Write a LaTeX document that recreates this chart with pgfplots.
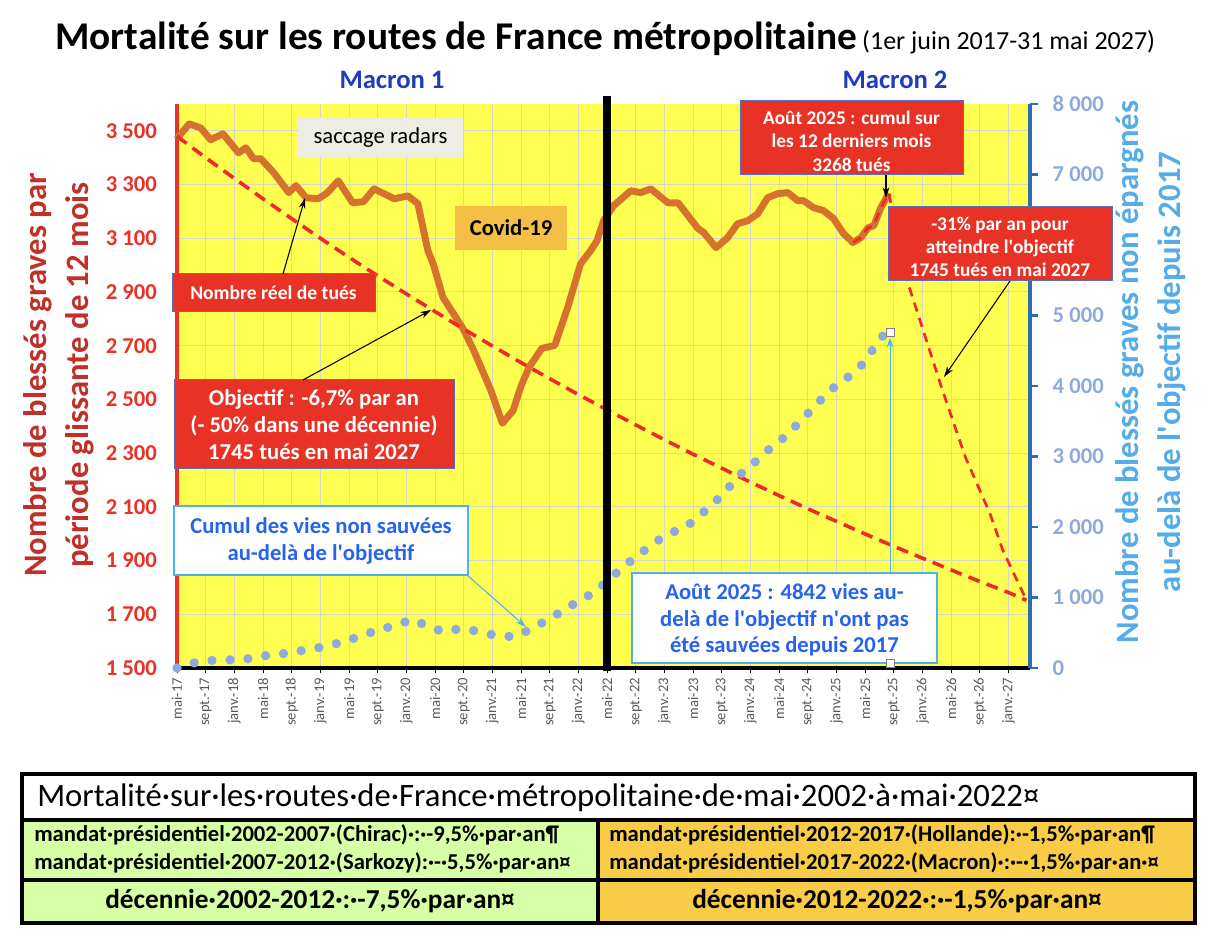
\documentclass[border=0pt]{standalone}
\usepackage{fontspec}
\setmainfont{Carlito}
\usepackage{pgfplots}
\pgfplotsset{compat=1.18}
\usetikzlibrary{arrows.meta}
\newcommand{\q}{\textquotesingle}
\definecolor{ylw}{RGB}{255,255,82}
\definecolor{grd}{RGB}{214,214,200}
\definecolor{orng}{RGB}{214,114,46}
\definecolor{rdd}{RGB}{240,40,40}
\definecolor{boxred}{RGB}{232,50,38}
\definecolor{boxbd}{RGB}{90,110,190}
\definecolor{dotblue}{RGB}{142,169,219}
\definecolor{axred}{RGB}{232,50,38}
\definecolor{labred}{RGB}{192,48,40}
\definecolor{axblue}{RGB}{46,109,180}
\definecolor{ticklb}{RGB}{142,170,219}
\definecolor{labblue}{RGB}{86,172,232}
\definecolor{macblue}{RGB}{31,60,190}
\definecolor{txtblue}{RGB}{37,99,235}
\definecolor{cyanb}{RGB}{77,176,240}
\definecolor{greyb}{RGB}{237,237,229}
\definecolor{covid}{RGB}{244,191,69}
\definecolor{tgreen}{RGB}{215,255,165}
\definecolor{torange}{RGB}{248,204,70}
\definecolor{ticktxt}{RGB}{89,89,89}
\begin{document}
\begin{tikzpicture}
\path[use as bounding box] (0,0) rectangle (913.5pt,714pt);
\begin{axis}[
  at={(132.75pt,213pt)}, anchor=south west,
  width=639.75pt, height=423pt, scale only axis,
  xmin=0, xmax=119, ymin=1500, ymax=3600,
  axis x line*=bottom, axis y line*=left,
  x axis line style={line width=3pt, black, -},
  y axis line style={line width=3.5pt, axred, -},
  ytick={1500,1700,...,3500},
  xtick={0,4,...,116},
  xticklabels={mai-17,sept.-17,janv.-18,mai-18,sept.-18,janv.-19,mai-19,sept.-19,janv.-20,mai-20,sept.-20,janv.-21,mai-21,sept.-21,janv.-22,mai-22,sept.-22,janv.-23,mai-23,sept.-23,janv.-24,mai-24,sept.-24,janv.-25,mai-25,sept.-25,janv.-26,mai-26,sept.-26,janv.-27},
  x tick label style={rotate=90, anchor=east, font=\fontsize{11}{12}\selectfont, text=ticktxt},
  y tick label style={font=\bfseries\fontsize{17}{20}\selectfont, text=axred, xshift=-7.5pt},
  /pgf/number format/assume math mode=true,
  /pgf/number format/1000 sep={\ },
  grid=major, grid style={grd, line width=0.75pt},
  major tick length=4pt, tick align=outside,
  ytick style={draw=none}, xtick style={black, line width=0.75pt},
  axis background/.style={fill=ylw},
  clip=false,
]
\addplot[orng, line width=5.2pt, line join=round, mark=none] coordinates {
(0,3470)(0.3,3481)(1.7,3526)(3.3,3511)(4.7,3467)(6.4,3489)(8.6,3418)(9.6,3437)
(10.7,3396)(11.7,3396)(13.5,3344)(15.6,3270)(16.6,3296)(18,3251)(19.7,3247)
(21,3270)(22.5,3314)(24.5,3232)(26,3236)(27.5,3284)(30.3,3247)(32.2,3258)
(33.6,3229)(35,3054)(35.8,3000)(37.1,2880)(39.9,2764)(41.4,2682)(43.8,2533)
(45.4,2411)(46.9,2459)(48,2550)(49.1,2619)(50.9,2690)(52.7,2701)(54.5,2842)
(56.3,3005)(57.7,3054)(58.6,3091)(59.5,3165)(60.9,3221)(63.3,3277)(64.7,3270)
(66.1,3284)(68.5,3232)(69.9,3232)(72.7,3136)(73.5,3121)(75.2,3065)(76.8,3102)
(78.2,3154)(79.6,3165)(81,3191)(82.4,3251)(83.8,3266)(85.2,3270)(86.6,3240)
(87.4,3240)(88.8,3214)(90.2,3203)(91.6,3173)(93,3117)(94.3,3084)(95.4,3102)
(96.4,3139)(97.2,3147)(98.2,3214)(99.3,3268)};
\addplot[rdd, line width=2.7pt, dash pattern=on 9pt off 5.5pt, mark=none] coordinates {
(0,3480)(4,3400)(8,3323)(12,3247)(16,3173)(20,3100)(24,3029)(28,2960)(32,2893)
(36,2827)(40,2762)(44,2699)(48,2637)(52,2577)(56,2518)(60,2461)(64,2405)(68,2350)
(72,2296)(76,2244)(80,2192)(84,2142)(88,2093)(92,2046)(96,1999)(100,1953)(104,1909)
(108,1865)(112,1822)(116,1781)(118.5,1752)};
\addplot[rdd, line width=2pt, dash pattern=on 7pt off 5pt, mark=none] coordinates {
(94.3,3084)(95.4,3102)(96.4,3139)(97.2,3147)(98.2,3214)(99.3,3268)(102,2931)
(106.8,2533)(110,2284)(113.4,2076)(115.2,1939)(118.5,1753)};
\end{axis}
\begin{axis}[
  at={(132.75pt,213pt)}, anchor=south west,
  width=639.75pt, height=423pt, scale only axis,
  xmin=0, xmax=119, ymin=0, ymax=8000,
  axis x line=none, axis y line*=right,
  y axis line style={line width=3pt, axblue, -},
  ytick={0,1000,...,8000},
  yticklabels={0,1\ 000,2\ 000,3\ 000,4\ 000,5\ 000,,7\ 000,8\ 000},
  ytick style={axblue, line width=2pt},
  major tick length=6pt, tick align=outside,
  y tick label style={font=\bfseries\fontsize{17}{20}\selectfont, text=ticklb, xshift=7.5pt},
  /pgf/number format/assume math mode=true,
  /pgf/number format/1000 sep={\ },
  clip=false,
]
\addplot[dotblue, line width=7pt, line cap=round, dash pattern=on 0pt off 13.5pt, mark=none] coordinates {
(0,0)(0.7,30)(3.1,90)(5.7,115)(8.2,115)(10.8,140)(13.3,195)(15.9,210)(18.3,270)
(20.8,300)(23.2,375)(25.5,445)(28,540)(30.4,600)(32.8,690)(34.8,600)(37.1,515)
(39.7,560)(42.2,515)(44.7,455)(47.1,445)(49.4,550)(51.6,680)(53.9,815)(56,950)
(58.3,1075)(60.2,1250)(62.1,1420)(64.2,1590)(66.2,1745)(68.4,1900)(70.8,1985)
(72.7,2140)(74.7,2325)(76.5,2495)(78.1,2710)(80.1,2865)(81.9,3050)(84,3205)
(85.9,3390)(87.7,3575)(89.4,3760)(91.2,3945)(93.3,4100)(95.3,4270)(96.8,4480)
(98.3,4695)(99.3,4770)};
\draw[black, line width=6pt] (axis cs:60,-40) -- (axis cs:60,8113);
\end{axis}
\begin{scope}[x=0.75pt,y=-0.75pt,shift={(0pt,714pt)}]
% title
\node[anchor=base west, inner sep=0] at (55,50) {{\bfseries\fontsize{29.5}{34}\selectfont Mortalité sur les routes de France métropolitaine}\hspace{4pt}{\fontsize{19.5}{23}\selectfont (1er juin 2017-31 mai 2027)}};
\node[text=macblue, font=\bfseries\fontsize{20}{24}\selectfont] at (392,80) {Macron 1};
\node[text=macblue, font=\bfseries\fontsize{20}{24}\selectfont] at (895,80) {Macron 2};
% axis titles
\node[rotate=90, align=center, text=labred, font=\bfseries\fontsize{24.5}{31.5}\selectfont] at (59,375) {Nombre de blessés graves par\\période glissante de 12 mois};
\node[rotate=90, align=center, text=labblue, font=\bfseries\fontsize{24.5}{31.5}\selectfont] at (1151,372) {Nombre de blessés graves non épargnés\\au-delà de l\q objectif depuis 2017};
% annotations
\fill[greyb] (298,118) rectangle (463,157);
\node[font=\fontsize{17}{20}\selectfont] at (380.5,137.5) {saccage radars};
\fill[covid] (455,206) rectangle (567,250);
\node[font=\bfseries\fontsize{17}{20}\selectfont] at (511,228) {Covid-19};
\draw[fill=boxred, draw=boxbd, line width=0.75pt] (172,274) rectangle (375,312);
\node[text=white, font=\bfseries\fontsize{14.7}{18}\selectfont] at (273.5,293) {Nombre réel de tués};
\draw[-{Stealth[length=8pt,width=5pt]}, line width=0.8pt] (283,274) -- (305,198);
\draw[fill=boxred, draw=boxbd, line width=0.75pt] (174,380) rectangle (454,469);
\node[text=white, align=center, font=\bfseries\fontsize{17}{20.25}\selectfont] at (314,425) {Objectif : -6,7\% par an\\(- 50\% dans une décennie)\\1745 tués en mai 2027};
\draw[-{Stealth[length=8pt,width=5pt]}, line width=0.8pt] (303,380) -- (431,310);
\draw[fill=white, draw=cyanb, line width=2pt] (174,506) rectangle (468,575);
\node[text=txtblue, align=center, font=\bfseries\fontsize{17}{20.25}\selectfont] at (321,540.5) {Cumul des vies non sauvées\\au-delà de l\q objectif};
\draw[-{Stealth[length=8pt,width=5pt]}, cyanb, line width=0.8pt] (467,575) -- (526,627);
\draw[fill=boxred, draw=boxbd, line width=0.75pt] (740,101) rectangle (963,175);
\node[text=white, align=center, font=\bfseries\fontsize{14.5}{17.6}\selectfont] at (851.5,141) {Août 2025 : cumul sur\\les 12 derniers mois\\3268 tués};
\draw[-{Stealth[length=8pt,width=5pt]}, line width=0.8pt] (886,175) -- (886,198);
\draw[fill=boxred, draw=boxbd, line width=0.75pt] (888,207) rectangle (1112,281);
\node[text=white, align=center, font=\bfseries\fontsize{14.5}{17.4}\selectfont] at (1000,247) {-31\% par an pour\\atteindre l\q objectif\\1745 tués en mai 2027};
\draw[-{Stealth[length=8pt,width=5pt]}, line width=0.8pt] (1010,281) -- (944,377);
\draw[-{Stealth[length=7pt,width=5pt]}, cyanb, line width=0.6pt] (890,573) -- (890,338);
\draw[fill=white, draw=cyanb, line width=2pt] (632,573) rectangle (937,663);
\node[text=txtblue, align=center, font=\bfseries\fontsize{17}{20}\selectfont] at (784.5,620) {Août 2025 : 4842 vies au-\\delà de l\q objectif n\q ont pas\\été sauvées depuis 2017};
\draw[fill=white, draw=gray, line width=0.5pt] (886,328) rectangle (894,336);
\draw[fill=white, draw=gray, line width=0.5pt] (886,659) rectangle (894,667);
% table
\fill[black] (20,772) rectangle (1197,925);
\fill[white] (24,776) rectangle (1193,818);
\fill[tgreen] (24,822) rectangle (596,878);
\fill[torange] (600,822) rectangle (1193,878);
\fill[tgreen] (24,882) rectangle (596,921);
\fill[torange] (600,882) rectangle (1193,921);
\node[anchor=west, inner sep=0, font=\fontsize{24.5}{28}\selectfont] at (37,798) {Mortalité·sur·les·routes·de·France·métropolitaine·de·mai·2002·à·mai·2022¤};
\node[anchor=west, align=left, inner sep=0, font=\bfseries\fontsize{17}{21}\selectfont] at (34,849) {mandat·présidentiel·2002-2007·(Chirac)·:·-9,5\%·par·an¶\\mandat·présidentiel·2007-2012·(Sarkozy):·-·5,5\%·par·an¤};
\node[anchor=west, align=left, inner sep=0, font=\bfseries\fontsize{17}{21}\selectfont] at (609,849) {mandat·présidentiel·2012-2017·(Hollande):·-1,5\%·par·an¶\\mandat·présidentiel·2017-2022·(Macron)·:·-·1,5\%·par·an·¤};
\node[font=\bfseries\fontsize{20.5}{24}\selectfont] at (310,901) {décennie·2002-2012·:·-7,5\%·par·an¤};
\node[font=\bfseries\fontsize{20.5}{24}\selectfont] at (897,901) {décennie·2012-2022·:·-1,5\%·par·an¤};
\end{scope}
\end{tikzpicture}
\end{document}
